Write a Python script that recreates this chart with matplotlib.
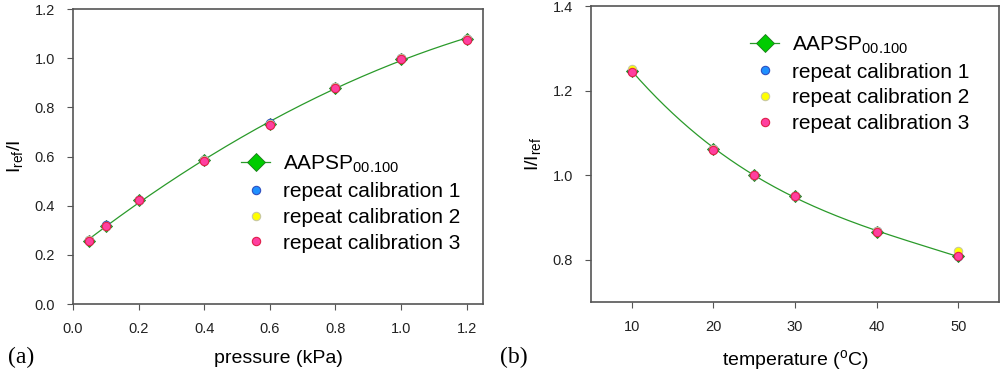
import numpy as np
import matplotlib.pyplot as plt

plt.rcParams['font.family'] = ['Liberation Sans', 'DejaVu Sans']
plt.rcParams['mathtext.fontset'] = 'custom'
plt.rcParams['mathtext.rm'] = 'Liberation Sans'

# (a) pressure calibration
pressure = [0.05, 0.1, 0.2, 0.4, 0.6, 0.8, 1.0, 1.2]
p_aapsp = [0.257, 0.318, 0.424, 0.584, 0.731, 0.880, 0.998, 1.078]
p_rep1 = [0.262, 0.322, 0.425, 0.587, 0.737, 0.882, 1.000, 1.076]
p_rep2 = [0.259, 0.319, 0.424, 0.585, 0.732, 0.881, 0.999, 1.076]
p_rep3 = [0.256, 0.317, 0.423, 0.583, 0.729, 0.879, 0.998, 1.074]

# (b) temperature calibration
temperature = [10, 20, 25, 30, 40, 50]
t_aapsp = [1.247, 1.062, 1.000, 0.951, 0.866, 0.808]
t_rep1 = [1.246, 1.061, 1.000, 0.950, 0.867, 0.809]
t_rep2 = [1.250, 1.063, 1.001, 0.951, 0.869, 0.820]
t_rep3 = [1.245, 1.059, 1.000, 0.950, 0.866, 0.809]

green = '#00cc00'
line_green = '#2a9a2a'
grey = '#555555'

fig = plt.figure(figsize=(10, 3.76), dpi=100)
ax1 = fig.add_axes([0.073, 72 / 376, 0.410, 295 / 376])
ax2 = fig.add_axes([0.591, 74 / 376, 0.408, 296 / 376])


def draw(ax, x, aapsp, r1, r2, r3, deg):
    x = np.asarray(x, float)
    coef = np.polyfit(x, aapsp, deg)
    xs = np.linspace(x.min(), x.max(), 200)
    ax.plot(xs, np.polyval(coef, xs), color=line_green, lw=0.9, zorder=2)
    ax.plot(x, aapsp, ls='none', marker='D', ms=6, mfc=green, mec='#1d7a1d',
            mew=0.6, zorder=3)
    ax.plot([], [], color=line_green, lw=0.9, marker='D', ms=9, mfc=green,
            mec='#1d7a1d', mew=0.6, label=r'AAPSP$_{\mathrm{00.100}}$')
    ax.plot(x, r1, ls='none', marker='o', ms=6, mfc='#1e90ff', mec='#3050c0',
            mew=0.8, zorder=4, label='repeat calibration 1')
    ax.plot(x, r2, ls='none', marker='o', ms=6, mfc='#ffff00', mec='#c8c8a0',
            mew=0.8, zorder=5, label='repeat calibration 2')
    ax.plot(x, r3, ls='none', marker='o', ms=6, mfc='#ff3fa0', mec='#e0204a',
            mew=0.8, zorder=6, label='repeat calibration 3')
    for s in ax.spines.values():
        s.set_color(grey)
        s.set_linewidth(1.2)
    ax.tick_params(direction='out', length=4, color=grey, labelsize=10.5,
                   labelcolor='#222222', pad=9)


draw(ax1, pressure, p_aapsp, p_rep1, p_rep2, p_rep3, 2)
ax1.set_xlim(0, 1.25)
ax1.set_ylim(0, 1.2)
ax1.set_xticks(np.arange(0, 1.21, 0.2))
ax1.set_yticks(np.arange(0, 1.21, 0.2))
ax1.set_xlabel('pressure (kPa)', fontsize=14, labelpad=10)
ax1.set_ylabel(r'I$_{\mathrm{ref}}$/I', fontsize=14, labelpad=6)
ax1.legend(loc='upper left', bbox_to_anchor=(0.41, 0.51), frameon=False,
           fontsize=15, handlelength=1.4, handletextpad=0.6, labelspacing=0.33,
           borderpad=0, borderaxespad=0)

draw(ax2, temperature, t_aapsp, t_rep1, t_rep2, t_rep3, 3)
ax2.set_xlim(5, 55)
ax2.set_ylim(0.7, 1.4)
ax2.set_xticks([10, 20, 30, 40, 50])
ax2.set_yticks([0.8, 1.0, 1.2, 1.4])
ax2.set_xlabel(r'temperature ($^{\mathrm{o}}$C)', fontsize=14, labelpad=10)
ax2.set_ylabel(r'I/I$_{\mathrm{ref}}$', fontsize=14, labelpad=6)
ax2.legend(loc='upper left', bbox_to_anchor=(0.39, 0.905), frameon=False,
           fontsize=15, handlelength=1.4, handletextpad=0.6, labelspacing=0.33,
           borderpad=0, borderaxespad=0)

fig.text(0.008, 0.035, '(a)', fontsize=17, family='Liberation Serif')
fig.text(0.5, 0.035, '(b)', fontsize=17, family='Liberation Serif')

fig.savefig('out.png', dpi=100)
